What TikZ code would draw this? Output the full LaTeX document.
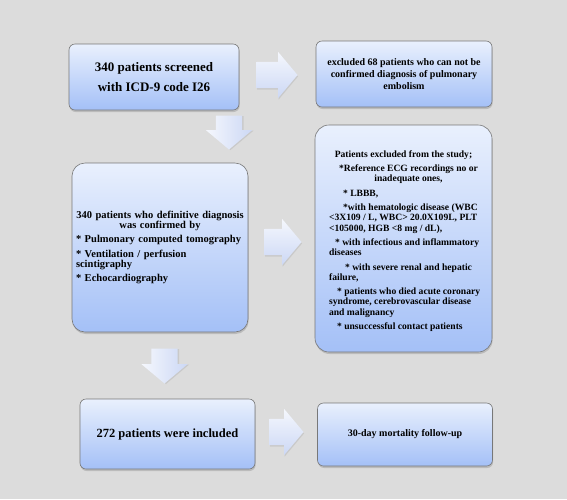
\documentclass[tikz,border=0pt]{standalone}
\usepackage{fontspec}
\setmainfont{Liberation Serif}
\usepackage{tikz}
\usetikzlibrary{shapes.arrows, shadows, calc, positioning}
\definecolor{bggray}{RGB}{220,220,220}
\definecolor{boxtop}{RGB}{233,240,253}
\definecolor{boxbottom}{RGB}{164,192,247}
\definecolor{boxline}{RGB}{120,120,120}
\definecolor{arrtop}{RGB}{245,247,253}
\definecolor{arrbottom}{RGB}{204,216,245}
\tikzstyle{flowbox} = [rectangle, rounded corners=6pt, draw=boxline, line width=0.6pt, top color=boxtop, bottom color=boxbottom, align=center, inner sep=3pt, drop shadow={shadow xshift=0.6pt, shadow yshift=-2pt, opacity=0.35}]
\tikzstyle{arrowbody} = [single arrow, draw=none, minimum width=0pt, inner xsep=0pt, inner ysep=13pt, single arrow head extend=10pt, single arrow tip angle=100, anchor=tail]
\tikzstyle{rightarrow} = [arrowbody, top color=arrtop, bottom color=arrbottom, drop shadow={shadow xshift=0.5pt, shadow yshift=-1.5pt, opacity=0.2}]
\tikzstyle{downarrow} = [arrowbody, rotate=-90, left color=arrtop, right color=arrbottom, drop shadow={shadow xshift=1.5pt, shadow yshift=-0.5pt, opacity=0.2}]

\begin{document}
\begin{tikzpicture}[x=1pt, y=-1pt]
\fill[bggray] (0,0) rectangle (567,499);
\useasboundingbox (0,0) rectangle (567,499);

% boxes
\node[flowbox, minimum width=170pt, minimum height=66pt,
font=\bfseries\fontsize{13}{20}\selectfont] (screen) at (154,77)
{340 patients screened\\with ICD-9 code I26};

\node[flowbox, minimum width=176pt, minimum height=66pt,
font=\bfseries\fontsize{10}{11.6}\selectfont] (excl) at (404,74)
{excluded 68 patients who can not be\\confirmed diagnosis of pulmonary\\embolism};

\node[flowbox, rounded corners=13pt, minimum width=176pt, minimum height=169pt,
text width=168pt, align=left,
font=\bfseries\fontsize{10.5}{10.3}\selectfont] (confirm) at (160,247.5)
{\setlength{\parskip}{4pt}%
{\centering 340 patients who definitive diagnosis\\was confirmed by\par}
* Pulmonary computed tomography\par
* Ventilation / perfusion\\scintigraphy\par
* Echocardiography};

\node[flowbox, rounded corners=14pt, minimum width=177pt, minimum height=227pt,
font=\bfseries\fontsize{9.6}{10.3}\selectfont] (exclstudy) at (403.5,238.5)
{\begin{tabular}{@{}l@{\hspace{-8pt}}}
\multicolumn{1}{@{}c@{}}{\rule{0pt}{13pt}Patients excluded from the study;}\\[4pt]
\multicolumn{1}{@{}c@{}}{\hspace*{10pt}*Reference ECG recordings no or}\\
\multicolumn{1}{@{}c@{}}{\hspace*{10pt}inadequate ones,}\\[4pt]
\hspace*{14pt}* LBBB,\\[4pt]
\hspace*{14pt}*with hematologic disease (WBC\\
<3X109 / L, WBC> 20.0X109L, PLT\\
<105000, HGB <8 mg / dL),\\[4pt]
\hspace*{6pt}* with infectious and inflammatory\\
diseases\\[4pt]
\hspace*{16pt}* with severe renal and hepatic\\
failure,\\[4pt]
\hspace*{8pt}* patients who died acute coronary\\
syndrome, cerebrovascular disease\\
and malignancy\\[4pt]
\hspace*{8pt}* unsuccessful contact patients
\end{tabular}};

\node[flowbox, minimum width=175pt, minimum height=70pt,
font=\bfseries\fontsize{12.5}{15}\selectfont] (incl) at (167.5,434)
{272 patients were included};

\node[flowbox, minimum width=175pt, minimum height=63pt,
font=\bfseries\fontsize{10}{12}\selectfont] (follow) at (405,434.5)
{30-day mortality follow-up};

% block arrows
\node[rightarrow, minimum height=41pt] (arrA) at ($(screen.east)+(17,-2)$) {};
\node[rightarrow, minimum height=37pt] (arrB) at ($(confirm.east)+(16,-5.5)$) {};
\node[rightarrow, minimum height=34pt] (arrC) at ($(incl.east)+(14,-2)$) {};
\node[downarrow, minimum height=34pt] (arrD) at ($(screen.south)+(75,5)$) {};
\node[downarrow, minimum height=35pt] (arrE) at ($(confirm.south)+(4.5,16)$) {};
\end{tikzpicture}
\end{document}
